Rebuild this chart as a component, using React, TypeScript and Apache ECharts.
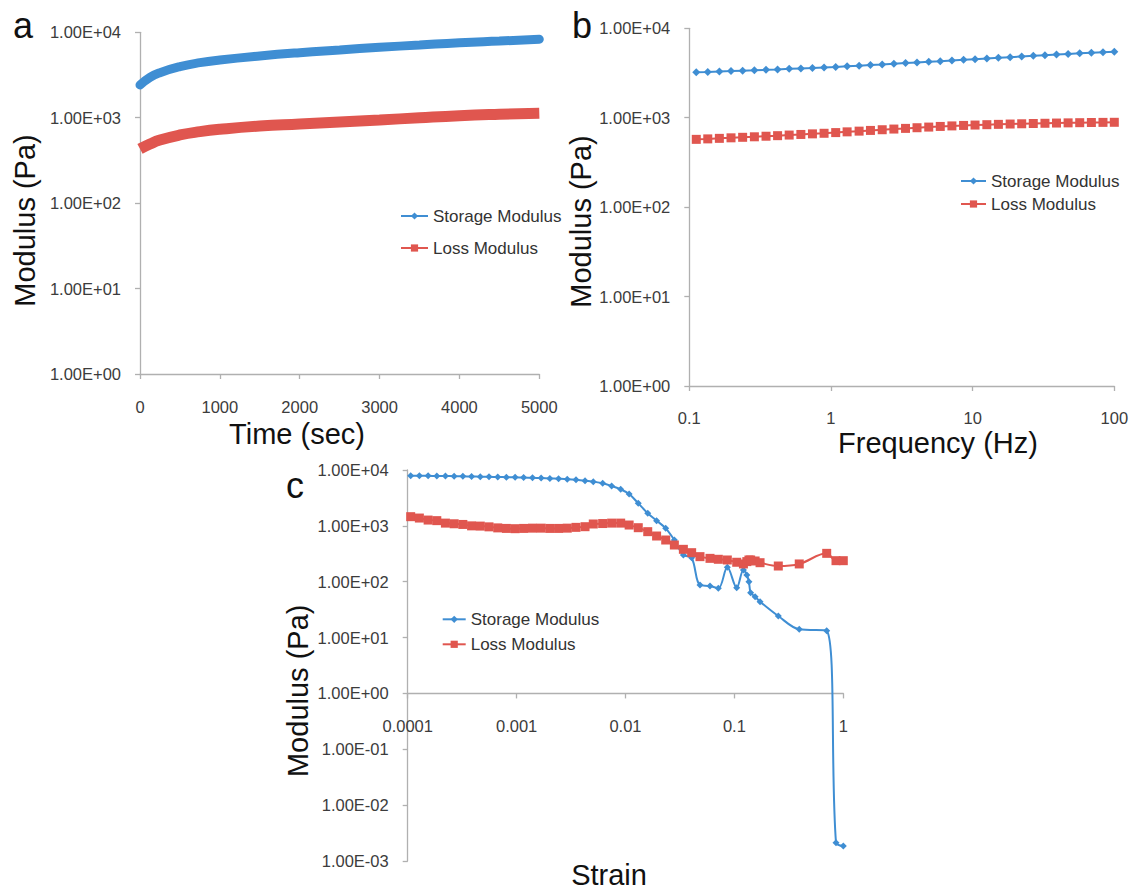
import React, { useEffect, useRef } from 'react';
import * as echarts from 'echarts';

// ---------- Panel a: time sweep ----------
const timeSec = [0, 125, 250, 500, 750, 1000, 1500, 2000, 2500, 3000, 3500, 4000, 4500, 5000];
const timeStorage = [2415, 2970, 3370, 3960, 4410, 4740, 5280, 5770, 6210, 6670, 7100, 7550, 7910, 8280];
const timeLoss = [431, 492, 548, 628, 687, 732, 800, 845, 892, 940, 1000, 1057, 1097, 1127];

// ---------- Panel b: frequency sweep ----------
const freqHz = [0.112, 0.135, 0.163, 0.197, 0.238, 0.288, 0.348, 0.42, 0.507, 0.613, 0.74, 0.894, 1.08, 1.3, 1.58, 1.9, 2.3, 2.78, 3.36, 4.05, 4.9, 5.91, 7.14, 8.63, 10.4, 12.6, 15.2, 18.4, 22.2, 26.8, 32.4, 39.1, 47.2, 57.0, 68.9, 83.2, 100];
const freqStorage = [3220, 3250, 3290, 3320, 3360, 3390, 3430, 3470, 3520, 3560, 3600, 3650, 3700, 3760, 3820, 3880, 3940, 4010, 4080, 4150, 4220, 4290, 4370, 4440, 4520, 4600, 4680, 4760, 4840, 4920, 5010, 5090, 5170, 5250, 5330, 5400, 5470];
const freqLoss = [573, 580, 588, 596, 604, 612, 621, 630, 640, 650, 660, 670, 682, 695, 708, 721, 734, 747, 760, 773, 786, 799, 810, 820, 828, 836, 843, 850, 856, 862, 867, 872, 876, 880, 884, 887, 889];

// ---------- Panel c: strain sweep ----------
const strain = [1.065e-4, 1.28e-4, 1.54e-4, 1.85e-4, 2.22e-4, 2.67e-4, 3.21e-4, 3.86e-4, 4.64e-4, 5.58e-4, 6.71e-4, 8.06e-4, 9.69e-4, 1.16e-3, 1.4e-3, 1.68e-3, 2.02e-3, 2.43e-3, 2.92e-3, 3.51e-3, 0.00425, 0.00506, 0.00617, 0.00746, 0.00903, 0.0108, 0.0131, 0.016, 0.0193, 0.0234, 0.0281, 0.034, 0.0405, 0.0483, 0.0597, 0.0712, 0.0861, 0.105, 0.121, 0.13, 0.136, 0.141, 0.155, 0.172, 0.253, 0.394, 0.704, 0.857, 1.0];
const strainStorage = [7900, 7880, 7850, 7820, 7790, 7750, 7700, 7650, 7600, 7550, 7500, 7450, 7400, 7330, 7250, 7170, 7080, 6970, 6850, 6680, 6440, 6180, 5780, 5170, 4510, 3710, 2530, 1680, 1240, 904, 558, 301, 269, 87.3, 83.8, 76.2, 181, 78.2, 162, 132, 100, 63.7, 54, 43.9, 24.3, 14.1, 13.3, 0.00213, 0.00186];
const strainLoss = [1460, 1380, 1270, 1240, 1120, 1090, 1060, 1000, 990, 960, 920, 900, 890, 900, 910, 910, 900, 900, 910, 940, 966, 1080, 1100, 1120, 1120, 1035, 927, 787, 658, 558, 454, 380, 331, 281, 262, 252, 245, 223, 208, 229, 245, 245, 235, 219, 191, 208, 322, 238, 238];

const seriesNames = ['Storage Modulus', 'Loss Modulus'];

const BLUE = '#3f8ed3';
const RED = '#e0564f';
const FONT = '"Liberation Sans", Arial, Helvetica, sans-serif';
const AXIS_GRAY = '#b0b0b0';
const LABEL_GRAY = '#3c3c3c';

const sci = (v: number) => {
  const e = Math.round(Math.log10(v));
  return '1.00E' + (e < 0 ? '-' : '+') + String(Math.abs(e)).padStart(2, '0');
};
const dec = (v: number) => {
  const e = Math.round(Math.log10(v));
  return e < 0 ? '0.' + '0'.repeat(-e - 1) + '1' : '1' + '0'.repeat(e);
};
const plain = (v: number) => String(Math.round(v));

const axisCommon = {
  axisLine: { show: true, onZero: false, lineStyle: { color: AXIS_GRAY, width: 1.3 } },
  axisTick: { show: true, length: 5, lineStyle: { color: AXIS_GRAY, width: 1.3 } },
  splitLine: { show: false },
};

const labelStyle = (margin: number, formatter?: any) => ({
  fontSize: 16.5,
  fontFamily: FONT,
  color: LABEL_GRAY,
  margin,
  formatter,
});

const pair = (xs: number[], ys: number[]) => xs.map((x, i) => [x, ys[i]]);

export default function App() {
  const ref = useRef<HTMLDivElement>(null);
  useEffect(() => {
    if (!ref.current) return;
    const chart = echarts.init(ref.current, undefined, { renderer: 'svg' });

    const title = (text: string, x: number, y: number, rot = 0, size = 29) => ({
      type: 'text',
      x,
      y,
      rotation: rot,
      style: { text, fontSize: size, fontFamily: FONT, fill: '#111', align: 'center', verticalAlign: 'middle' },
    });

    const legendCommon = {
      orient: 'vertical',
      padding: 0,
      itemHeight: 9,
      selectedMode: false,
      data: seriesNames,
      lineStyle: { width: 2 },
      textStyle: { fontSize: 17, fontFamily: FONT, color: '#333' },
    };

    chart.setOption({
      animation: false,
      backgroundColor: '#ffffff',
      grid: [
        { left: 140, top: 32.3, width: 399.3, height: 341.7 },
        { left: 689.3, top: 28.3, width: 425, height: 357.7 },
        { left: 407.7, top: 470, width: 435.6, height: 391 },
      ],
      xAxis: [
        { ...axisCommon, gridIndex: 0, type: 'value', min: 0, max: 5000, interval: 1000, axisLabel: labelStyle(24, plain) },
        { ...axisCommon, gridIndex: 1, type: 'log', logBase: 10, min: 0.1, max: 100, axisLabel: labelStyle(23, dec) },
        { ...axisCommon, gridIndex: 2, type: 'log', logBase: 10, min: 0.0001, max: 1, offset: -167.57, axisLabel: labelStyle(24, dec) },
      ],
      yAxis: [
        { ...axisCommon, gridIndex: 0, type: 'log', logBase: 10, min: 1, max: 10000, axisLabel: labelStyle(19, sci) },
        { ...axisCommon, gridIndex: 1, type: 'log', logBase: 10, min: 1, max: 10000, axisLabel: labelStyle(19, sci) },
        { ...axisCommon, gridIndex: 2, type: 'log', logBase: 10, min: 0.001, max: 10000, axisLabel: labelStyle(19, sci) },
      ],
      legend: [
        { ...legendCommon, left: 400, top: 207.5, itemWidth: 27, itemGap: 15 },
        { ...legendCommon, left: 960, top: 172.5, itemWidth: 25, itemGap: 6 },
        { ...legendCommon, left: 441.7, top: 610.8, itemWidth: 23, itemGap: 8 },
      ],
      series: [
        {
          type: 'line', name: seriesNames[0], xAxisIndex: 1, yAxisIndex: 1,
          data: pair(freqHz, freqStorage), symbol: 'diamond', symbolSize: 8,
          itemStyle: { color: BLUE }, lineStyle: { color: BLUE, width: 2 },
        },
        {
          type: 'line', name: seriesNames[1], xAxisIndex: 1, yAxisIndex: 1,
          data: pair(freqHz, freqLoss), symbol: 'rect', symbolSize: 9,
          itemStyle: { color: RED }, lineStyle: { color: RED, width: 2 },
        },
        {
          type: 'line', name: seriesNames[0], xAxisIndex: 0, yAxisIndex: 0,
          data: pair(timeSec, timeStorage), symbol: 'diamond', showSymbol: false, smooth: true,
          itemStyle: { color: BLUE }, lineStyle: { color: BLUE, width: 9, cap: 'round' },
        },
        {
          type: 'line', name: seriesNames[1], xAxisIndex: 0, yAxisIndex: 0,
          data: pair(timeSec, timeLoss), symbol: 'rect', showSymbol: false, smooth: true,
          itemStyle: { color: RED }, lineStyle: { color: RED, width: 11 },
        },
        {
          type: 'line', name: seriesNames[0], xAxisIndex: 2, yAxisIndex: 2,
          data: pair(strain, strainStorage), symbol: 'diamond', symbolSize: 7, smooth: 0.35,
          itemStyle: { color: BLUE }, lineStyle: { color: BLUE, width: 2 },
        },
        {
          type: 'line', name: seriesNames[1], xAxisIndex: 2, yAxisIndex: 2,
          data: pair(strain, strainLoss), symbol: 'rect', symbolSize: 9, smooth: 0.35,
          itemStyle: { color: RED }, lineStyle: { color: RED, width: 2 },
        },
      ],
      graphic: [
        title('a', 23, 25.7, 0, 36),
        title('b', 582, 25.7, 0, 36),
        title('c', 295, 485.7, 0, 36),
        title('Modulus (Pa)', 25, 220.5, Math.PI / 2),
        title('Modulus (Pa)', 581, 221.5, Math.PI / 2),
        title('Modulus (Pa)', 298, 690.8, Math.PI / 2),
        title('Time (sec)', 297, 434),
        title('Frequency (Hz)', 938, 442.5),
        title('Strain', 609, 875),
      ],
    });
    return () => chart.dispose();
  }, []);
  return (
    <div
      ref={ref}
      style={{ position: 'fixed', left: 0, top: 0, width: 1136, height: 892, background: '#fff' }}
    />
  );
}
